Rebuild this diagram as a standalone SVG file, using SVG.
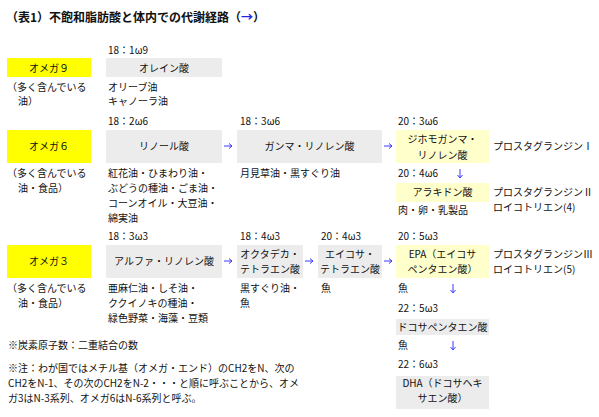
<svg xmlns="http://www.w3.org/2000/svg" width="599" height="417" viewBox="0 0 599 417">
<style>
text{font-family:"Noto Sans CJK JP","Liberation Sans",sans-serif;font-size:10px;fill:#111}
.c{text-anchor:middle}
.ttl{font-size:12px;font-weight:bold}
.y{fill:#ffff00}
.g{fill:#ececec}
.ly{fill:#ffffcc}
.ar{fill:none;stroke:#3a3aff;stroke-width:1}
</style>
<rect width="599" height="417" fill="#fff"/>
<text class="ttl" x="6" y="22">（表1）不飽和脂肪酸と体内での代謝経路（<tspan fill="#2323e6">→</tspan>）</text>

<g id="omega9">
<rect class="y" x="7" y="58" width="84" height="19"/>
<text class="c" x="49" y="71.5">オメガ９</text>
<text x="7" y="91">（多く含んでいる</text>
<text x="18" y="105">油）</text>
</g>
<g id="oleic">
<text x="108" y="54">18：1ω9</text>
<rect class="g" x="106" y="58" width="116" height="19"/>
<text class="c" x="164" y="71.5">オレイン酸</text>
<text x="108" y="91">オリーブ油</text>
<text x="108" y="105">キャノーラ油</text>
</g>

<g id="omega6">
<rect class="y" x="7" y="130" width="84" height="33"/>
<text class="c" x="49" y="150">オメガ６</text>
<text x="7" y="177">（多く含んでいる</text>
<text x="18" y="192">油・食品）</text>
</g>
<g id="linoleic">
<text x="108" y="125">18：2ω6</text>
<rect class="g" x="106" y="130" width="116" height="33"/>
<text class="c" x="164" y="150">リノール酸</text>
<text x="108" y="177">紅花油・ひまわり油・</text>
<text x="108" y="192">ぶどうの種油・ごま油・</text>
<text x="108" y="207">コーンオイル・大豆油・</text>
<text x="108" y="222">綿実油</text>
</g>
<g id="gla">
<text x="240" y="125">18：3ω6</text>
<rect class="g" x="237" y="130" width="145" height="33"/>
<text class="c" x="309.5" y="150">ガンマ・リノレン酸</text>
<text x="240" y="177">月見草油・黒すぐり油</text>
</g>
<g id="dgla">
<text x="398" y="125">20：3ω6</text>
<rect class="ly" x="396" y="130" width="93" height="33"/>
<text class="c" x="442.5" y="142.5">ジホモガンマ・</text>
<text class="c" x="442.5" y="158.5">リノレン酸</text>
<text x="493" y="150">プロスタグランジンⅠ</text>
</g>
<g id="aa">
<text x="398" y="177">20：4ω6</text>
<rect class="ly" x="396" y="183" width="93" height="19"/>
<text class="c" x="442.5" y="196">アラキドン酸</text>
<text x="398" y="214">肉・卵・乳製品</text>
<text x="493" y="196">プロスタグランジンⅡ</text>
<text x="493" y="211">ロイコトリエン(4)</text>
</g>

<g id="omega3">
<rect class="y" x="7" y="245" width="84" height="33"/>
<text class="c" x="49" y="265">オメガ３</text>
<text x="7" y="292">（多く含んでいる</text>
<text x="18" y="307">油・食品）</text>
</g>
<g id="ala">
<text x="108" y="240">18：3ω3</text>
<rect class="g" x="106" y="245" width="116" height="33"/>
<text class="c" x="164" y="265">アルファ・リノレン酸</text>
<text x="108" y="292">亜麻仁油・しそ油・</text>
<text x="108" y="307">ククイノキの種油・</text>
<text x="108" y="322">緑色野菜・海藻・豆類</text>
</g>
<g id="sda">
<text x="240" y="240">18：4ω3</text>
<rect class="g" x="237" y="245" width="66" height="33"/>
<text class="c" x="270" y="257.5">オクタデカ・</text>
<text class="c" x="270" y="273">テトラエン酸</text>
<text x="240" y="292">黒すぐり油・</text>
<text x="240" y="307">魚</text>
</g>
<g id="eta">
<text x="321" y="240">20：4ω3</text>
<rect class="g" x="318" y="245" width="64" height="33"/>
<text class="c" x="350" y="257.5">エイコサ・</text>
<text class="c" x="350" y="273">テトラエン酸</text>
<text x="321" y="292">魚</text>
</g>
<g id="epa">
<text x="398" y="240">20：5ω3</text>
<rect class="ly" x="396" y="245" width="93" height="33"/>
<text class="c" x="442.5" y="257.5">EPA（エイコサ</text>
<text class="c" x="442.5" y="273">ペンタエン酸）</text>
<text x="493" y="257.5">プロスタグランジンⅢ</text>
<text x="493" y="273">ロイコトリエン(5)</text>
<text x="398" y="292">魚</text>
</g>
<g id="dpa">
<text x="398" y="312">22：5ω3</text>
<rect class="g" x="396" y="319" width="93" height="16"/>
<text class="c" x="442.5" y="331">ドコサペンタエン酸</text>
<text x="398" y="349">魚</text>
</g>
<g id="dha">
<text x="398" y="368">22：6ω3</text>
<rect class="g" x="396" y="376" width="93" height="33"/>
<text class="c" x="442.5" y="387">DHA（ドコサヘキ</text>
<text class="c" x="442.5" y="402">サエン酸）</text>
</g>

<g id="connectors">
<path class="ar" d="M224,146H232M229,143.5L232,146L229,148.5"/>
<path class="ar" d="M384,146H392M389,143.5L392,146L389,148.5"/>
<path class="ar" d="M224,261H232M229,258.5L232,261L229,263.5"/>
<path class="ar" d="M305,261H313M310,258.5L313,261L310,263.5"/>
<path class="ar" d="M384,261H392M389,258.5L392,261L389,263.5"/>
<path class="ar" d="M460,169V178M457.5,175L460,178L462.5,175"/>
<path class="ar" d="M453,284V293M450.5,290L453,293L455.5,290"/>
<path class="ar" d="M453,341V350M450.5,347L453,350L455.5,347"/>
</g>

<g id="notes">
<text x="8" y="349">※炭素原子数：二重結合の数</text>
<text x="8" y="372">※注：わが国ではメチル基（オメガ・エンド）のCH2をN、次の</text>
<text x="8" y="387">CH2をN-1、その次のCH2をN-2・・・と順に呼ぶことから、オメ</text>
<text x="8" y="402">ガ3はN-3系列、オメガ6はN-6系列と呼ぶ。</text>
</g>
</svg>
